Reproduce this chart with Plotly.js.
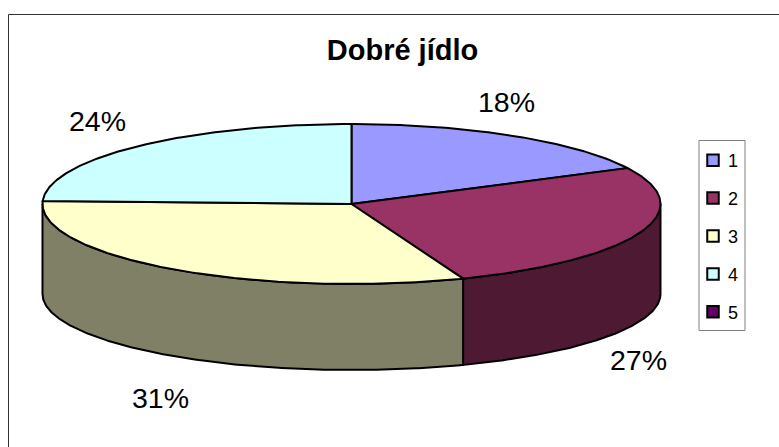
<!DOCTYPE html>
<html><head><meta charset="utf-8">
<script src="https://cdn.plot.ly/plotly-3.0.1.min.js"></script>
<style>html,body{margin:0;padding:0;background:#fff}#c{width:779px;height:447px}</style>
</head><body><div id="c"></div>
<script>
const titleText = "Dobré jídlo";
const categories = ["1","2","3","4","5"];
const values = [17.6, 26.52, 31.48, 24.4, 0];
const topColors = ["#9999FF","#993366","#FFFFCC","#CCFFFF","#660066"];
const sideColors = ["#4D4D80","#4D1933","#808066","#668080","#330033"];
const labelPos = [[506,102],[638,360],[160,398],[97,121]];

const cx = 351.5, cy = 204, rx = 309, ry = 80, cyLow = 294, ryLow = 76;
const total = values.reduce((a,b)=>a+b,0);
const px = t => cx + rx*Math.sin(t);
const py = t => cy - ry*Math.cos(t);
const pyLow = t => cyLow - ryLow*Math.cos(t);
const line = {color:"#000", width:2};
const traces = [];
let cum = 0;
const arcs = values.map(v => { const a = cum/total*2*Math.PI; cum += v; return [a, cum/total*2*Math.PI]; });

function sample(a,b){ const n = Math.max(2, Math.ceil((b-a)/0.01)); const r=[]; for(let i=0;i<=n;i++) r.push(a+(b-a)*i/n); return r; }

// rim (front-facing part only)
arcs.forEach((arc,i)=>{
  const a = Math.max(arc[0], Math.PI/2), b = Math.min(arc[1], 3*Math.PI/2);
  if (b <= a) return;
  const ts = sample(a,b), back = ts.slice().reverse();
  traces.push({type:"scatter",mode:"lines",fill:"toself",fillcolor:sideColors[i],line,hoverinfo:"skip",showlegend:false,
    x: ts.map(px).concat(back.map(px), [px(ts[0])]),
    y: ts.map(py).concat(back.map(pyLow), [py(ts[0])])});
});
// top faces
arcs.forEach((arc,i)=>{
  if (arc[1] <= arc[0]) return;
  const ts = sample(arc[0],arc[1]);
  traces.push({type:"scatter",mode:"lines",fill:"toself",fillcolor:topColors[i],line,hoverinfo:"skip",showlegend:false,
    x:[cx].concat(ts.map(px),[cx]), y:[cy].concat(ts.map(py),[cy])});
});
// legend entries
categories.forEach((c,i)=>{
  traces.push({type:"scatter",mode:"markers",name:c,legendgroup:c,x:[-50],y:[-50],hoverinfo:"skip",
    marker:{symbol:"square",size:11.5,color:topColors[i],line:{color:"#000",width:2}}});
});
const annotations = values.slice(0,4).map((v,i)=>({
  x:labelPos[i][0], y:labelPos[i][1], xref:"x", yref:"y", showarrow:false,
  text: Math.round(v/total*100)+"%", font:{family:"Liberation Sans",size:28.5,color:"#000"}
}));
const layout = {
  width:779,height:447,margin:{l:0,r:0,t:0,b:0},paper_bgcolor:"#fff",plot_bgcolor:"#fff",
  title:{text:"<b>"+titleText+"</b>",font:{family:"Liberation Sans",size:29,color:"#000"},x:402.5/779,xanchor:"center",y:1-50/447,yanchor:"middle"},
  xaxis:{range:[0,779],visible:false,fixedrange:true},
  yaxis:{range:[447,0],visible:false,fixedrange:true},
  shapes:[
    {type:"rect",xref:"x",yref:"y",x0:8.5,x1:785,y0:14.5,y1:460,line:{color:"#333",width:1},layer:"below"},
    {type:"rect",xref:"x",yref:"y",x0:699,x1:745,y0:140.5,y1:330.5,line:{color:"#808080",width:1},layer:"below"}
  ],
  annotations,
  showlegend:true,
  legend:{x:693/779,y:1-142/447,xanchor:"left",yanchor:"top",bgcolor:"rgba(0,0,0,0)",borderwidth:0,
    tracegroupgap:11.5,itemwidth:30,traceorder:"grouped",font:{family:"Liberation Sans",size:18,color:"#000"}}
};
Plotly.newPlot("c",traces,layout,{displayModeBar:false,staticPlot:true}).then(()=>{
  document.querySelectorAll(".legendtext").forEach(t=>t.setAttribute("x", 35));
});
</script></body></html>
